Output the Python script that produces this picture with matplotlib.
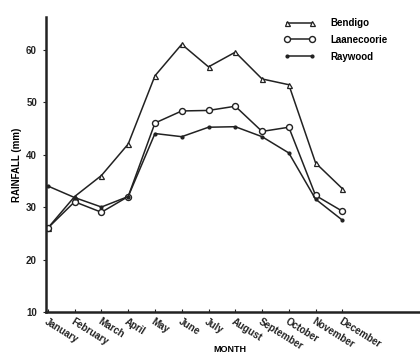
import matplotlib
matplotlib.use('Agg')
import matplotlib.pyplot as plt

# Monthly rainfall (mm)
months = ['January', 'February', 'March', 'April', 'May', 'June', 'July',
          'August', 'September', 'October', 'November', 'December']
bendigo = [26, 32, 36, 42, 55, 61, 56.7, 59.5, 54.4, 53.3, 38.4, 33.5]
laanecoorie = [26, 31, 29, 32, 46, 48.3, 48.4, 49.2, 44.4, 45.2, 32.2, 29.2]
raywood = [34, 31.8, 30, 32, 44, 43.4, 45.2, 45.3, 43.4, 40.3, 31.5, 27.5]
y_ticks = [10, 20, 30, 40, 50, 60]

plt.rcParams['font.family'] = ['Liberation Sans', 'DejaVu Sans']
plt.rcParams['font.weight'] = 'bold'

fig = plt.figure(figsize=(4.2, 3.54), dpi=100)
ax = fig.add_axes([46/420, 1 - 312/354, 1 - 46/420, (312 - 17)/354])

x = list(range(1, 13))
col = '#222222'
ax.plot(x, bendigo, color=col, lw=1.1, marker='^', ms=3.6, mfc='white', mec=col, mew=0.9, label='Bendigo')
ax.plot(x, laanecoorie, color=col, lw=1.1, marker='o', ms=4.3, mfc='white', mec=col, mew=1.0, label='Laanecoorie')
ax.plot(x, raywood, color=col, lw=1.1, marker='o', ms=2.0, mfc=col, mec=col, label='Raywood')

ax.set_xlim(0.93, 14.9)
ax.set_ylim(10, 66.2)
ax.set_yticks(y_ticks)
ax.set_yticklabels([str(v) for v in y_ticks], fontsize=7, fontweight='bold')
ax.set_xticks(x)
ax.set_xticklabels(months, rotation=-32, ha='left', va='top', rotation_mode='anchor',
                   fontsize=7, fontweight='bold')

for s in ['top', 'right']:
    ax.spines[s].set_visible(False)
for s in ['left', 'bottom']:
    ax.spines[s].set_linewidth(1.8)
    ax.spines[s].set_color(col)
ax.tick_params(axis='y', direction='out', length=2.5, width=0.8, colors=col, pad=4)
ax.tick_params(axis='x', direction='in', length=2.5, width=0.8, colors=col, pad=3)

ax.set_ylabel('RAINFALL (mm)', fontsize=7, fontweight='bold', labelpad=3)
fig.text(230/420, 1 - 349/354, 'MONTH', fontsize=6.5, fontweight='bold', ha='center', va='center')

leg = ax.legend(loc='upper left', bbox_to_anchor=(0.625, 1.01), frameon=False, fontsize=7,
                numpoints=2, handlelength=3.2, handletextpad=1.6, labelspacing=0.7, borderaxespad=0)

plt.savefig('out.png', dpi=100)
